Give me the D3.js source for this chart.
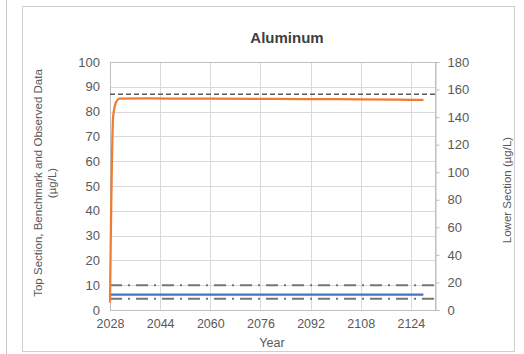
<!DOCTYPE html>
<html>
<head>
<meta charset="utf-8">
<script src="https://cdn.jsdelivr.net/npm/d3@7"></script>
<style>
  html, body { margin: 0; padding: 0; background: #fff; }
  svg { display: block; font-family: "Liberation Sans", Arial, sans-serif; }
</style>
</head>
<body>
<svg id="chart" width="524" height="354"></svg>
<script>
// Modelled aluminum concentration, top section (µg/L)
const modelYears  = [2028, 2029, 2030, 2031, 2040, 2060, 2080, 2100, 2120, 2128];
const modelValues = [3, 78, 84, 85.2, 85.3, 85.2, 85.1, 85.0, 84.8, 84.7];

// Lower section concentration (plotted on left scale)
const lowerYears  = [2028, 2128];
const lowerValues = [6.2, 6.2];

// Benchmark / reference levels
const benchmarkUpper = 87;
const observedHigh = 10;
const observedLow = 4.5;

const xTicks = [2028, 2044, 2060, 2076, 2092, 2108, 2124];
const yLeftTicks = [0, 10, 20, 30, 40, 50, 60, 70, 80, 90, 100];
const yRightTicks = [0, 20, 40, 60, 80, 100, 120, 140, 160, 180];

const svg = d3.select("#chart");
const plot = { left: 110, right: 435, top: 62, bottom: 310 };

const x = d3.scaleLinear().domain([2028, 2131.7]).range([plot.left, plot.right]);
const y = d3.scaleLinear().domain([0, 100]).range([plot.bottom, plot.top]);
const y2 = d3.scaleLinear().domain([0, 180]).range([plot.bottom, plot.top]);

// neighbouring panel edge and chart frame
svg.append("line").attr("x1", 6.5).attr("x2", 6.5).attr("y1", 0).attr("y2", 354)
  .attr("stroke", "#c8c8c8").attr("stroke-width", 1);
svg.append("rect").attr("x", 22.5).attr("y", 6.5).attr("width", 492).attr("height", 345)
  .attr("fill", "#fff").attr("stroke", "#d0d0d0").attr("stroke-width", 1);

// gridlines
svg.append("g").selectAll("line").data(yLeftTicks).join("line")
  .attr("x1", plot.left).attr("x2", plot.right)
  .attr("y1", d => Math.round(y(d)) + 0.5).attr("y2", d => Math.round(y(d)) + 0.5)
  .attr("stroke", "#d9d9d9");
svg.append("g").selectAll("line").data(xTicks).join("line")
  .attr("x1", d => Math.round(x(d)) + 0.5).attr("x2", d => Math.round(x(d)) + 0.5)
  .attr("y1", plot.top).attr("y2", plot.bottom)
  .attr("stroke", "#d9d9d9");
svg.append("rect").attr("x", plot.left + 0.5).attr("y", plot.top + 0.5)
  .attr("width", plot.right - plot.left).attr("height", plot.bottom - plot.top)
  .attr("fill", "none").attr("stroke", "#bfbfbf");

// left axis
const yAxisL = d3.axisLeft(y).tickValues(yLeftTicks).tickSize(0).tickPadding(10);
svg.append("g").attr("transform", `translate(${plot.left},0)`).call(yAxisL)
  .call(g => g.select(".domain").remove())
  .selectAll("text").attr("font-size", 13).attr("fill", "#595959");

// right axis
const yAxisR = d3.axisRight(y2).tickValues(yRightTicks).tickSize(4).tickPadding(8);
svg.append("g").attr("transform", `translate(${plot.right + 0.5},0)`).call(yAxisR)
  .call(g => g.select(".domain").attr("stroke", "#bfbfbf"))
  .call(g => g.selectAll(".tick line").attr("stroke", "#bfbfbf"))
  .selectAll("text").attr("font-size", 13).attr("fill", "#595959");

// bottom axis
const xAxis = d3.axisBottom(x).tickValues(xTicks).tickFormat(d3.format("d")).tickSize(0).tickPadding(9);
svg.append("g").attr("transform", `translate(0,${plot.bottom})`).call(xAxis)
  .call(g => g.select(".domain").attr("stroke", "#bfbfbf"))
  .selectAll("text").attr("font-size", 12.5).attr("fill", "#595959");

// reference lines
const hline = (v, dash, color, width) => svg.append("line")
  .attr("x1", plot.left).attr("x2", plot.right)
  .attr("y1", y(v)).attr("y2", y(v))
  .attr("stroke", color).attr("stroke-width", width).attr("stroke-dasharray", dash);
hline(benchmarkUpper, "5,3", "#595959", 1.5);
hline(observedHigh, "12,6,2,6", "#767676", 2);
hline(observedLow, "12,6,2,6", "#767676", 2);

// series
const line = d3.line().x(d => x(d[0])).y(d => y(d[1]));
svg.append("path").datum(d3.zip(lowerYears, lowerValues)).attr("d", line)
  .attr("fill", "none").attr("stroke", "#4472C4").attr("stroke-width", 2.25);
svg.append("path").datum(d3.zip(modelYears, modelValues))
  .attr("d", line.curve(d3.curveMonotoneX))
  .attr("fill", "none").attr("stroke", "#ED7D31").attr("stroke-width", 2.25);

// titles
svg.append("text").attr("x", 287).attr("y", 43).attr("text-anchor", "middle")
  .attr("font-size", 15).attr("font-weight", "bold").attr("fill", "#404040").text("Aluminum");
svg.append("text").attr("x", 272).attr("y", 347).attr("text-anchor", "middle")
  .attr("font-size", 12.5).attr("fill", "#595959").text("Year");
const ly = svg.append("text").attr("transform", "translate(42,183) rotate(-90)")
  .attr("text-anchor", "middle").attr("font-size", 11.5).attr("fill", "#595959");
ly.append("tspan").attr("x", 0).attr("y", 0).text("Top Section, Benchmark and Observed Data");
ly.append("tspan").attr("x", 0).attr("y", 14).text("(µg/L)");
svg.append("text").attr("transform", "translate(511,190) rotate(-90)")
  .attr("text-anchor", "middle").attr("font-size", 11.5).attr("fill", "#595959")
  .text("Lower Section (µg/L)");
</script>
</body>
</html>
